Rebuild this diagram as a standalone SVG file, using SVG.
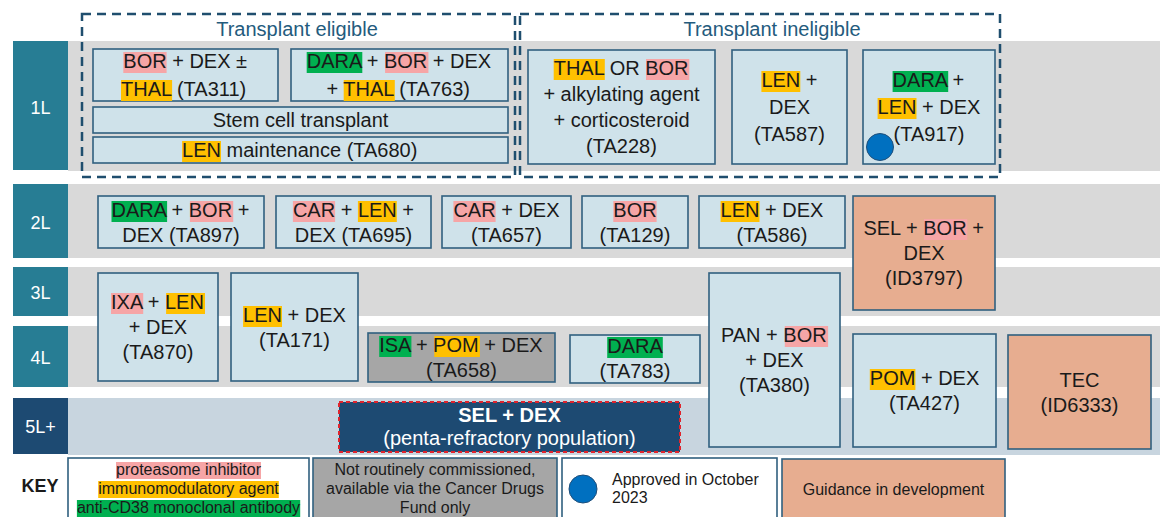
<svg xmlns="http://www.w3.org/2000/svg" width="1160" height="517" viewBox="0 0 1160 517">
<style>
text{font-family:"Liberation Sans",Arial,sans-serif;fill:#1a1a1a}
.t{font-size:20px}
.m{text-anchor:middle}
.k{font-size:16px}
.band{fill:#d9d9d9}
.lbl{fill:#277d94}
.lt{font-size:18px;fill:#fff;text-anchor:middle}
.box{fill:#cfe2ea;stroke:#30607f;stroke-width:1.6}
.org{fill:#e7ad90;stroke:#30607f;stroke-width:1.6}
.gry{fill:#a6a6a6;stroke:#30607f;stroke-width:1.6}
.hp{fill:#f6a5a6}
.hy{fill:#ffc000}
.hg{fill:#00b050}
.dash{fill:none;stroke:#1f4e6e;stroke-width:2.5;stroke-dasharray:9 6}
.title{font-size:20px;fill:#245b7d;text-anchor:middle}
</style>
<rect width="1160" height="517" fill="#fff"/>
<g id="bands">
<rect class="band" x="68" y="41" width="1092" height="130"/>
<rect class="band" x="68" y="184" width="1092" height="74"/>
<rect class="band" x="68" y="267" width="1092" height="49"/>
<rect class="band" x="68" y="326" width="1092" height="61"/>
<rect x="68" y="398" width="1092" height="57" fill="#c8d5df"/>
</g>
<g id="line-labels">
<rect class="lbl" x="13" y="41" width="55" height="129"/><text class="lt" x="40.5" y="114">1L</text>
<rect class="lbl" x="13" y="184" width="55" height="74"/><text class="lt" x="40.5" y="229">2L</text>
<rect class="lbl" x="13" y="267" width="55" height="49"/><text class="lt" x="40.5" y="299">3L</text>
<rect class="lbl" x="13" y="326" width="55" height="61"/><text class="lt" x="40.5" y="364">4L</text>
<rect x="13" y="398" width="55" height="56" fill="#1d4a72"/><text class="lt" x="40.5" y="433">5L+</text>
</g>
<g id="group-eligible">
<rect class="dash" x="82" y="14" width="433" height="163"/>
<text class="title" x="297" y="36">Transplant eligible</text>
</g>
<g id="group-ineligible">
<rect class="dash" x="520" y="14" width="480" height="163"/>
<text class="title" x="772" y="36">Transplant ineligible</text>
</g>
<g id="ta311">
<rect class="box" x="93" y="49" width="185" height="52"/>
<rect class="hp" x="123.3" y="52" width="43.3" height="21"/>
<rect class="hy" x="121" y="80" width="51.1" height="21"/>
<text class="t" x="123.3" y="68">BOR + DEX ±</text>
<text class="t" x="121" y="96">THAL (TA311)</text>
</g>
<g id="ta763">
<rect class="box" x="291" y="49" width="217" height="52"/>
<rect class="hg" x="306.7" y="52" width="55.6" height="21"/>
<rect class="hp" x="385.1" y="52" width="43.3" height="21"/>
<rect class="hy" x="343.7" y="80" width="51.1" height="21"/>
<text class="t" x="306.7" y="68">DARA + BOR + DEX</text>
<text class="t" x="326.4" y="96">+ THAL (TA763)</text>
</g>
<g id="stem-cell">
<rect class="box" x="93" y="107" width="415" height="26"/>
<text class="t m" x="300.5" y="127">Stem cell transplant</text>
</g>
<g id="ta680">
<rect class="box" x="93" y="137" width="415" height="26"/>
<rect class="hy" x="182.1" y="141" width="38.9" height="21"/>
<text class="t" x="182.1" y="157">LEN maintenance (TA680)</text>
</g>
<g id="ta228">
<rect class="box" x="528" y="50" width="187" height="114"/>
<rect class="hy" x="553.7" y="59" width="51.1" height="21"/>
<rect class="hp" x="646" y="59" width="43.3" height="21"/>
<text class="t" x="553.7" y="75">THAL OR BOR</text>
<text class="t m" x="621.5" y="101">+ alkylating agent</text>
<text class="t m" x="621.5" y="127">+ corticosteroid</text>
<text class="t m" x="621.5" y="153">(TA228)</text>
</g>
<g id="ta587">
<rect class="box" x="732" y="50" width="115" height="114"/>
<rect class="hy" x="761.4" y="71" width="38.9" height="21"/>
<text class="t" x="761.4" y="87">LEN +</text>
<text class="t m" x="789.5" y="114">DEX</text>
<text class="t m" x="789.5" y="141">(TA587)</text>
</g>
<g id="ta917">
<rect class="box" x="863" y="50" width="132" height="114"/>
<rect class="hg" x="892.6" y="71" width="55.6" height="21"/>
<rect class="hy" x="877.6" y="98" width="38.9" height="21"/>
<text class="t" x="892.6" y="87">DARA +</text>
<text class="t" x="877.6" y="114">LEN + DEX</text>
<text class="t m" x="929" y="141">(TA917)</text>
<circle cx="880" cy="147" r="13.5" fill="#0070c0" stroke="#1f4e79" stroke-width="1"/>
</g>
<g id="ta897">
<rect class="box" x="98" y="196" width="166" height="52"/>
<rect class="hg" x="111.5" y="201" width="55.6" height="21"/>
<rect class="hp" x="189.9" y="201" width="43.3" height="21"/>
<text class="t" x="111.5" y="217">DARA + BOR +</text>
<text class="t m" x="181" y="242">DEX (TA897)</text>
</g>
<g id="ta695">
<rect class="box" x="276" y="196" width="155" height="52"/>
<rect class="hp" x="292.9" y="201" width="42.2" height="21"/>
<rect class="hy" x="357.9" y="201" width="38.9" height="21"/>
<text class="t" x="292.9" y="217">CAR + LEN +</text>
<text class="t m" x="353.5" y="242">DEX (TA695)</text>
</g>
<g id="ta657">
<rect class="box" x="442" y="196" width="129" height="52"/>
<rect class="hp" x="453.4" y="201" width="42.2" height="21"/>
<text class="t" x="453.4" y="217">CAR + DEX</text>
<text class="t m" x="506.5" y="242">(TA657)</text>
</g>
<g id="ta129">
<rect class="box" x="582" y="196" width="106" height="52"/>
<rect class="hp" x="613.3" y="201" width="43.3" height="21"/>
<text class="t" x="613.3" y="217">BOR</text>
<text class="t m" x="635" y="242">(TA129)</text>
</g>
<g id="ta586">
<rect class="box" x="699" y="196" width="146" height="52"/>
<rect class="hy" x="720.6" y="201" width="38.9" height="21"/>
<text class="t" x="720.6" y="217">LEN + DEX</text>
<text class="t m" x="772" y="242">(TA586)</text>
</g>
<g id="id3797">
<rect class="org" x="853" y="196" width="142" height="114"/>
<rect class="hp" x="924" y="219" width="43.3" height="21"/>
<text class="t" x="863.4" y="235">SEL + BOR +</text>
<text class="t m" x="924" y="260">DEX</text>
<text class="t m" x="924" y="285">(ID3797)</text>
</g>
<g id="ta870">
<rect class="box" x="98" y="273" width="120" height="108"/>
<rect class="hp" x="111" y="293" width="32.2" height="21"/>
<rect class="hy" x="166.1" y="293" width="38.9" height="21"/>
<text class="t" x="111" y="309">IXA + LEN</text>
<text class="t m" x="158" y="334">+ DEX</text>
<text class="t m" x="158" y="359">(TA870)</text>
</g>
<g id="ta171">
<rect class="box" x="231" y="273" width="127" height="108"/>
<rect class="hy" x="243.1" y="306" width="38.9" height="21"/>
<text class="t" x="243.1" y="322">LEN + DEX</text>
<text class="t m" x="294.5" y="347">(TA171)</text>
</g>
<g id="ta658">
<rect class="gry" x="368" y="333" width="187" height="49"/>
<rect class="hg" x="379.2" y="336" width="32.2" height="21"/>
<rect class="hy" x="434.3" y="336" width="45.6" height="21"/>
<text class="t" x="379.2" y="352">ISA + POM + DEX</text>
<text class="t m" x="461.5" y="377">(TA658)</text>
</g>
<g id="ta783">
<rect class="box" x="570" y="335" width="130" height="48"/>
<rect class="hg" x="607.2" y="337" width="55.6" height="21"/>
<text class="t" x="607.2" y="353">DARA</text>
<text class="t m" x="635" y="378">(TA783)</text>
</g>
<g id="ta380">
<rect class="box" x="709" y="273" width="131" height="174"/>
<rect class="hp" x="784.8" y="326" width="43.3" height="21"/>
<text class="t" x="720.9" y="342">PAN + BOR</text>
<text class="t m" x="774.5" y="367">+ DEX</text>
<text class="t m" x="774.5" y="392">(TA380)</text>
</g>
<g id="ta427">
<rect class="box" x="853" y="334" width="143" height="113"/>
<rect class="hy" x="869.8" y="369" width="45.6" height="21"/>
<text class="t" x="869.8" y="385">POM + DEX</text>
<text class="t m" x="924.5" y="410">(TA427)</text>
</g>
<g id="id6333">
<rect class="org" x="1008" y="335" width="143" height="114"/>
<text class="t m" x="1079.5" y="387">TEC</text>
<text class="t m" x="1079.5" y="412">(ID6333)</text>
</g>
<g id="sel-dex">
<rect x="339" y="402" width="341" height="50" fill="#1d4a72" stroke="#e0242c" stroke-width="2" stroke-dasharray="4 3"/>
<text class="t m" x="509.5" y="422" style="fill:#fff;font-weight:bold">SEL + DEX</text>
<text class="t m" x="509.5" y="445" style="fill:#fff">(penta-refractory population)</text>
</g>
<g id="connectors"></g>
<g id="key">
<text x="40" y="492" style="font-size:18px;font-weight:bold;text-anchor:middle">KEY</text>
<rect x="68" y="458" width="241" height="70" fill="#fff" stroke="#30607f" stroke-width="1.6"/>
<rect class="hp" x="116" y="462" width="145" height="17"/>
<rect class="hy" x="98.2" y="481" width="180.6" height="17"/>
<rect class="hg" x="76.9" y="500" width="223.3" height="17"/>
<text class="k m" x="188.5" y="475">proteasome inhibitor</text>
<text class="k m" x="188.5" y="494">immunomodulatory agent</text>
<text class="k m" x="188.5" y="513">anti-CD38 monoclonal antibody</text>
</g>
<g id="key-cdf">
<rect class="gry" x="313" y="458" width="244" height="70"/>
<text class="k m" x="435" y="475">Not routinely commissioned,</text>
<text class="k m" x="435" y="494">available via the Cancer Drugs</text>
<text class="k m" x="435" y="513">Fund only</text>
</g>
<g id="key-approved">
<rect x="562" y="458" width="215" height="70" fill="#fff" stroke="#30607f" stroke-width="1.6"/>
<circle cx="583" cy="489" r="14" fill="#0070c0" stroke="#1f4e79" stroke-width="1"/>
<text class="k" x="612" y="485">Approved in October</text>
<text class="k" x="612" y="503">2023</text>
</g>
<g id="key-guidance">
<rect class="org" x="782" y="459" width="223" height="70"/>
<text class="k m" x="893.5" y="495">Guidance in development</text>
</g>
</svg>
